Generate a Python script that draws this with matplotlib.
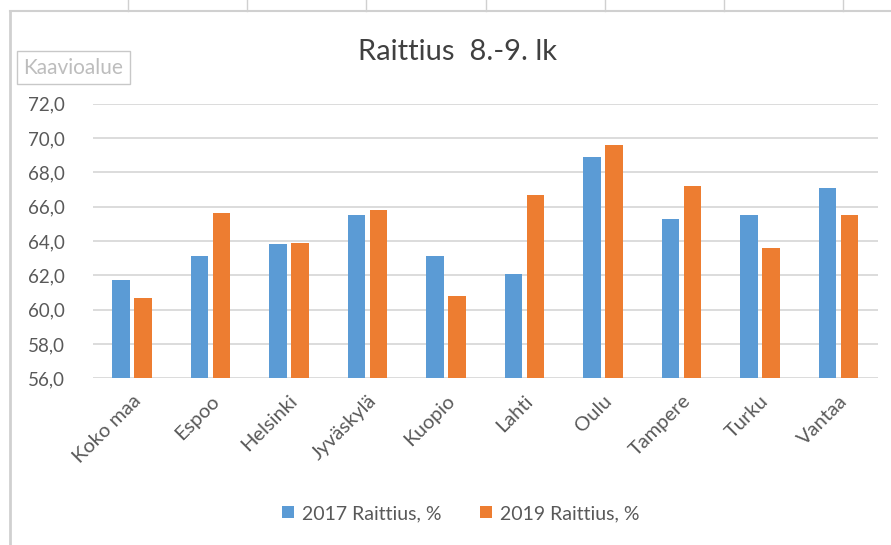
import matplotlib.pyplot as plt
import numpy as np

# Raittius 8.-9. lk, vuodet 2017 ja 2019
kaupungit = ["Koko maa", "Espoo", "Helsinki", "Jyväskylä", "Kuopio",
             "Lahti", "Oulu", "Tampere", "Turku", "Vantaa"]
raittius_2017 = [61.7, 63.1, 63.8, 65.5, 63.1, 62.1, 68.9, 65.3, 65.5, 67.1]
raittius_2019 = [60.7, 65.6, 63.9, 65.8, 60.8, 66.7, 69.6, 67.2, 63.6, 65.5]
y_ticks = [56, 58, 60, 62, 64, 66, 68, 70, 72]

sininen = "#5B9BD5"
oranssi = "#ED7D31"
harmaa = "#595959"

plt.rcParams['font.family'] = ['Lato', 'DejaVu Sans']

fig = plt.figure(figsize=(8.91, 5.45), dpi=100)
ax = fig.add_axes([0.104, 0.306, 0.881, 0.504])

x = np.arange(len(kaupungit))
w = 0.22
ax.bar(x - 0.14, raittius_2017, width=w, color=sininen, label="2017 Raittius, %", zorder=3)
ax.bar(x + 0.14, raittius_2019, width=w, color=oranssi, label="2019 Raittius, %", zorder=3)

ax.set_xlim(-0.5, len(kaupungit) - 0.5)
ax.set_ylim(56, 72)
ax.set_yticks(y_ticks)
ax.set_yticklabels([f"{v:.1f}".replace(".", ",") for v in y_ticks])
ax.yaxis.grid(True, color="#D9D9D9", linewidth=1.3, zorder=0)
ax.set_xticks(x)
ax.set_xticklabels(kaupungit, rotation=45, ha="right", rotation_mode="anchor")
ax.tick_params(axis="y", length=0, labelsize=13.5, colors=harmaa, pad=20)
ax.tick_params(axis="x", length=0, labelsize=14.5, colors=harmaa, pad=10)
for s in ax.spines.values():
    s.set_visible(False)

fig.text(0.513, 0.905, "Raittius  8.-9. lk", ha="center", va="center",
         fontsize=21, color="#404040")

leg = fig.legend(loc="center", bbox_to_anchor=(0.517, 0.058), ncol=2, frameon=False,
                 fontsize=14, handlelength=0.6, handleheight=0.6, handletextpad=0.4,
                 columnspacing=2.0)
for t in leg.get_texts():
    t.set_color(harmaa)

# taulukon reunaviivat ja "Kaavioalue"-vihje
fig.add_artist(plt.Line2D([0.011, 1], [1 - 11 / 545] * 2, color="#D0D0D0", lw=1.5))
fig.add_artist(plt.Line2D([0.011, 0.011], [0, 1 - 11 / 545], color="#D0D0D0", lw=2))
for xp in [128, 247, 366, 486, 605, 724, 843]:
    fig.add_artist(plt.Line2D([xp / 891] * 2, [1, 1 - 11 / 545], color="#D0D0D0", lw=1))
fig.text(0.0825, 0.876, "Kaavioalue", ha="center", va="center", fontsize=15,
         color="#BDBDBD",
         bbox=dict(boxstyle="square,pad=0.3", fc="white", ec="#C8C8C8", lw=1))

fig.savefig("out.png", dpi=100)
